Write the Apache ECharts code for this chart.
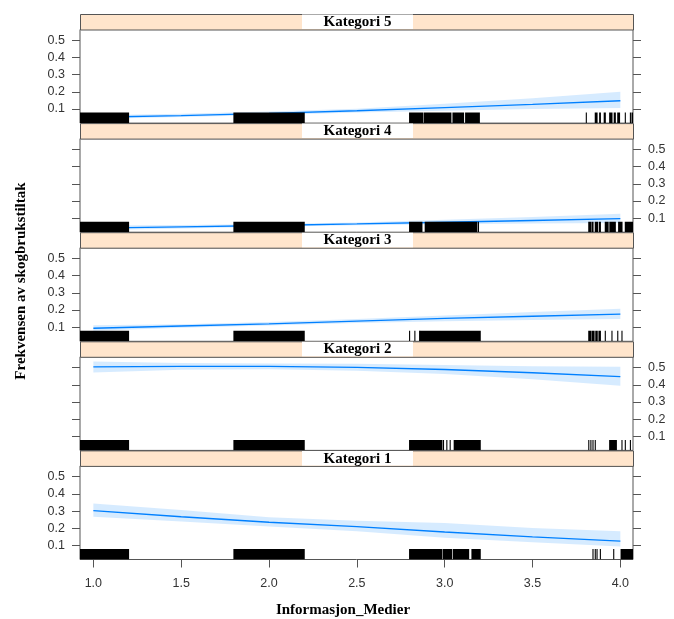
<!DOCTYPE html>
<html>
<head>
<meta charset="utf-8">
<script src="https://cdn.jsdelivr.net/npm/echarts@6/dist/echarts.min.js"></script>
<style>
  html, body { margin: 0; padding: 0; background: #fff; }
  #chart { width: 674px; height: 619px; }
</style>
</head>
<body>
<div id="chart"></div>
<script>
// effect values at these x points
const xs = [1, 1.5, 2, 2.5, 3, 3.5, 4]
const xTicks = [1, 1.5, 2, 2.5, 3, 3.5, 4]
const yTicks = [0.1, 0.2, 0.3, 0.4, 0.5]
const panelNames = ['Kategori 5', 'Kategori 4', 'Kategori 3', 'Kategori 2', 'Kategori 1']

const fit5 = [0.052, 0.062, 0.075, 0.090, 0.108, 0.127, 0.148]
const lo5 = [0.042, 0.053, 0.065, 0.080, 0.090, 0.100, 0.106]
const hi5 = [0.064, 0.072, 0.085, 0.102, 0.130, 0.162, 0.200]

const fit4 = [0.042, 0.049, 0.057, 0.066, 0.076, 0.086, 0.097]
const lo4 = [0.030, 0.040, 0.050, 0.058, 0.064, 0.068, 0.071]
const hi4 = [0.057, 0.060, 0.066, 0.075, 0.090, 0.106, 0.125]

const fit3 = [0.094, 0.107, 0.120, 0.136, 0.151, 0.164, 0.176]
const lo3 = [0.080, 0.097, 0.110, 0.124, 0.135, 0.142, 0.148]
const hi3 = [0.112, 0.118, 0.131, 0.148, 0.168, 0.188, 0.208]

const fit2 = [0.504, 0.507, 0.507, 0.502, 0.489, 0.470, 0.447]
const lo2 = [0.472, 0.488, 0.490, 0.482, 0.463, 0.432, 0.395]
const hi2 = [0.535, 0.527, 0.524, 0.522, 0.515, 0.508, 0.505]

const fit1 = [0.302, 0.267, 0.235, 0.210, 0.178, 0.150, 0.125]
const lo1 = [0.267, 0.239, 0.210, 0.182, 0.144, 0.119, 0.093]
const hi1 = [0.344, 0.306, 0.264, 0.243, 0.230, 0.201, 0.182]

// rug: [from, to] intervals (to == from for a single tick)
const rugCommon = [[0.8, 1.2], [1.8, 2.2]]
const rug5 = [[2.80, 2.876], [2.885, 3.035], [3.047, 3.107], [3.119, 3.197],
  [3.806, 3.806], [3.857, 3.867], [3.882, 3.886], [3.908, 3.914], [3.939, 3.952],
  [3.965, 3.971], [3.985, 3.995], [4.028, 4.028], [4.057, 4.057], [4.066, 4.072]]
const rug4 = [[2.80, 2.870], [2.889, 3.183], [3.192, 3.192],
  [3.820, 3.830], [3.838, 3.844], [3.857, 3.870], [3.880, 3.886], [3.914, 3.930],
  [3.940, 3.971], [3.990, 4.009], [4.028, 4.076]]
const rug3 = [[2.80, 2.80], [2.83, 2.83], [2.857, 2.857], [2.861, 3.202],
  [3.820, 3.830], [3.838, 3.850], [3.860, 3.868], [3.878, 3.886], [3.914, 3.914],
  [3.952, 3.952], [3.985, 3.985], [4.009, 4.009]]
const rug2 = [[2.80, 2.984], [2.993, 2.993], [3.012, 3.012], [3.031, 3.031], [3.054, 3.202],
  [3.820, 3.820], [3.832, 3.832], [3.844, 3.844], [3.857, 3.857], [3.939, 3.977],
  [4.009, 4.009], [4.028, 4.028], [4.057, 4.057]]
const rug1 = [[2.80, 2.984], [2.993, 3.040], [3.050, 3.136], [3.155, 3.202],
  [3.844, 3.844], [3.857, 3.857], [3.867, 3.867], [3.886, 3.886], [3.962, 3.962], [4.004, 4.076]]

const fits = [fit5, fit4, fit3, fit2, fit1]
const los = [lo5, lo4, lo3, lo2, lo1]
const his = [hi5, hi4, hi3, hi2, hi1]
const rugs = [rug5, rug4, rug3, rug2, rug1]

const xMin = 0.924, xMax = 4.072
const yMin = 0.018, yMax = 0.563

const frameTop = 14
const unitH = 109.1
const stripH = 15.5
const panelH = 93.6
const left = 80, right = 633
const frameCol = '#555'
const labelFont = { color: '#333', fontSize: 12.5, fontFamily: 'Liberation Sans' }

const chart = echarts.init(document.getElementById('chart'))

const grids = [], xAxes = [], yAxes = [], series = [], graphics = []

panelNames.forEach((name, i) => {
  const stripTop = frameTop + i * unitH
  const top = stripTop + stripH
  const labelsLeft = i % 2 === 0
  grids.push({
    left: left, top: top, width: right - left, height: panelH,
    show: true, borderColor: frameCol, borderWidth: 1, backgroundColor: 'transparent'
  })
  xAxes.push({
    gridIndex: i,
    type: 'value',
    min: xMin,
    max: xMax,
    position: i === 0 ? 'top' : 'bottom',
    show: i === 0 || i === panelNames.length - 1,
    axisLine: { show: false },
    splitLine: { show: false },
    axisTick: { customValues: xTicks, length: 8, lineStyle: { color: frameCol } },
    axisLabel: Object.assign({
      show: i === panelNames.length - 1,
      customValues: xTicks,
      margin: 18,
      formatter: v => v.toFixed(1)
    }, labelFont)
  })
  ;['left', 'right'].forEach(pos => {
    yAxes.push({
      gridIndex: i,
      type: 'value',
      min: yMin,
      max: yMax,
      position: pos,
      axisLine: { show: false },
      splitLine: { show: false },
      axisTick: { customValues: yTicks, length: 8, lineStyle: { color: frameCol } },
      axisLabel: Object.assign({
        show: (pos === 'left') === labelsLeft,
        customValues: yTicks,
        margin: 15,
        formatter: v => v.toFixed(1)
      }, labelFont)
    })
  })

  // confidence band as one polygon
  const lo = los[i], hi = his[i]
  series.push({
    type: 'custom', xAxisIndex: i, yAxisIndex: 2 * i, clip: true, silent: true,
    data: xs.map((x, k) => [x, lo[k], hi[k]]),
    encode: { x: 0, y: [1, 2] },
    renderItem: (params, api) => {
      if (params.dataIndex !== 0) return null
      const pts = []
      xs.forEach((x, k) => pts.push(api.coord([x, hi[k]])))
      for (let k = xs.length - 1; k >= 0; k--) pts.push(api.coord([xs[k], lo[k]]))
      return {
        type: 'polygon',
        shape: { points: pts },
        style: { fill: 'rgba(0,128,255,0.16)' }
      }
    }
  })
  // fitted effect
  series.push({
    type: 'line', xAxisIndex: i, yAxisIndex: 2 * i,
    data: xs.map((x, k) => [x, fits[i][k]]),
    symbol: 'none',
    lineStyle: { color: '#0080ff', width: 1.3 },
    z: 3
  })
  // rug
  series.push({
    type: 'custom', xAxisIndex: i, yAxisIndex: 2 * i, clip: true, z: 4,
    data: rugCommon.concat(rugs[i]).map(r => [r[0], r[1], yMin]),
    encode: { x: [0, 1], y: 2 },
    renderItem: (params, api) => {
      const p0 = api.coord([api.value(0), api.value(2)])
      const p1 = api.coord([api.value(1), api.value(2)])
      const h = 10.5
      return {
        type: 'rect',
        shape: { x: p0[0] - 0.5, y: p0[1] - h, width: Math.max(p1[0] - p0[0], 0) + 1.1, height: h },
        style: { fill: '#000' }
      }
    }
  })

  // strip
  graphics.push({
    type: 'rect', left: left, top: stripTop,
    shape: { width: right - left, height: stripH },
    style: { fill: '#ffe5cc', stroke: frameCol, lineWidth: 1 }, z: 10
  })
  graphics.push({
    type: 'rect', left: 302, top: stripTop + 0.5,
    shape: { width: 111, height: stripH - 1 },
    style: { fill: '#fff' }, z: 11
  })
  graphics.push({
    type: 'text', x: 357.5, y: stripTop + stripH / 2 + 0.5, z: 12,
    style: {
      text: name, fill: '#000', font: 'bold 15px "Liberation Serif"',
      align: 'center', verticalAlign: 'middle'
    }
  })
})

graphics.push({
  type: 'text', x: 21, y: 281, rotation: Math.PI / 2, z: 12,
  style: {
    text: 'Frekvensen av skogbrukstiltak', fill: '#000', font: 'bold 15px "Liberation Serif"',
    align: 'center', verticalAlign: 'middle'
  }
})
graphics.push({
  type: 'text', x: 343, y: 610, z: 12,
  style: {
    text: 'Informasjon_Medier', fill: '#000', font: 'bold 15px "Liberation Serif"',
    align: 'center', verticalAlign: 'middle'
  }
})

chart.setOption({
  animation: false,
  grid: grids,
  xAxis: xAxes,
  yAxis: yAxes,
  series: series,
  graphic: graphics
})
</script>
</body>
</html>
